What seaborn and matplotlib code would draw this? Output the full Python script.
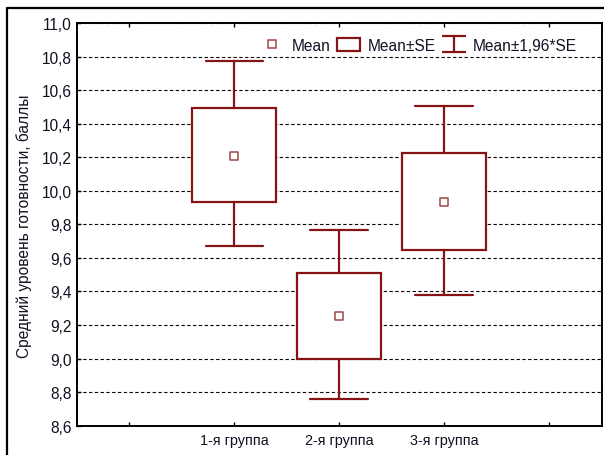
import numpy as np
import pandas as pd
import seaborn as sns
import matplotlib.pyplot as plt
from matplotlib.path import Path
from matplotlib.lines import Line2D
from matplotlib.patches import Patch

# values (Mean, Mean±SE, Mean±1,96*SE)
groups = ["1-я группа", "2-я группа", "3-я группа"]
means = [10.21, 9.255, 9.935]
se_low = [9.935, 8.998, 9.649]
se_high = [10.493, 9.510, 10.225]
ci_low = [9.669, 8.759, 9.379]
ci_high = [10.772, 9.766, 10.504]
y_ticks = [8.6, 8.8, 9.0, 9.2, 9.4, 9.6, 9.8, 10.0, 10.2, 10.4, 10.6, 10.8, 11.0]

box_color = "#861414"
mean_color = "#A04848"
text_color = "#111122"

sns.set_style("white")
plt.rcParams["font.family"] = ["Liberation Sans", "DejaVu Sans"]

df = pd.DataFrame({"group": groups, "mean": means, "se_low": se_low,
                   "se_high": se_high, "ci_low": ci_low, "ci_high": ci_high})
df["pos"] = np.arange(len(df)) + 2

fig = plt.figure(figsize=(6.04, 4.56), dpi=100)
ax = fig.add_axes([0.1275, 0.0643, 0.996 - 0.1275, 0.9474 - 0.0643])

# boxes built from the summary values
stats = []
for _, r in df.iterrows():
    stats.append(dict(med=r["mean"], q1=r["se_low"], q3=r["se_high"],
                      whislo=r["ci_low"], whishi=r["ci_high"], fliers=[],
                      label=r["group"]))

ax.bxp(stats, positions=df["pos"].tolist(), widths=0.8, capwidths=0.55,
       showfliers=False, patch_artist=True, manage_ticks=False, zorder=3,
       boxprops=dict(facecolor="white", edgecolor=box_color, linewidth=1.6),
       whiskerprops=dict(color=box_color, linewidth=1.6),
       capprops=dict(color=box_color, linewidth=1.6),
       medianprops=dict(linestyle="none"))

sns.scatterplot(data=df, x="pos", y="mean", marker="s", s=32, color="white",
                edgecolor=mean_color, linewidth=1.1, zorder=4, ax=ax, legend=False)

ax.set_xlim(0.5, 5.5)
ax.set_ylim(8.6, 11.0)
ax.set_xticks([1, 2, 3, 4, 5])
ax.set_xticklabels([""] + groups + [""], fontsize=10.4)
ax.set_yticks(y_ticks)
ax.set_yticklabels([f"{v:.1f}".replace(".", ",") for v in y_ticks], fontsize=11.2)
ax.set_xlabel("")
ax.set_ylabel("Средний уровень готовности, баллы", fontsize=11.2, color=text_color)
ax.yaxis.set_label_coords(-0.086, 0.497)

ax.tick_params(axis="both", direction="in", length=3, width=1,
               labelcolor=text_color, color="black", pad=5)
ax.tick_params(axis="x", top=True, bottom=True)
ax.tick_params(axis="y", left=True, right=False, pad=4)

ax.yaxis.grid(True, linestyle=(0, (3, 2.2)), color="black", linewidth=0.8)
ax.xaxis.grid(False)
ax.set_axisbelow(True)
for sp in ax.spines.values():
    sp.set_color("black")
    sp.set_linewidth(1.4)

# legend
ci_marker = Path([(-1, 0.65), (1, 0.65), (0, 0.65), (0, -0.65), (-1, -0.65), (1, -0.65)],
                 [Path.MOVETO, Path.LINETO, Path.MOVETO, Path.LINETO, Path.MOVETO, Path.LINETO])
handles = [
    Line2D([], [], marker="s", linestyle="none", markersize=6, markerfacecolor="white",
           markeredgecolor=mean_color, markeredgewidth=1.1),
    Patch(facecolor="white", edgecolor=box_color, linewidth=1.6),
    Line2D([], [], marker=ci_marker, linestyle="none", markersize=17,
           markerfacecolor="none", markeredgecolor=box_color, markeredgewidth=1.6),
]
ax.legend(handles, ["Mean", "Mean±SE", "Mean±1,96*SE"], ncol=3, frameon=False,
          loc="upper right", bbox_to_anchor=(0.98, 0.997), fontsize=11.2,
          handlelength=1.5, handleheight=0.9, handletextpad=0.5, columnspacing=0.4,
          labelcolor=text_color)

# outer frame of the picture
fig.add_artist(Line2D([7 / 604, 7 / 604], [0, 1 - 9 / 456], color="black",
                      linewidth=1.6, transform=fig.transFigure))
fig.add_artist(Line2D([7 / 604, 1], [1 - 9 / 456, 1 - 9 / 456], color="black",
                      linewidth=1.6, transform=fig.transFigure))

plt.savefig("out.png", dpi=100)
